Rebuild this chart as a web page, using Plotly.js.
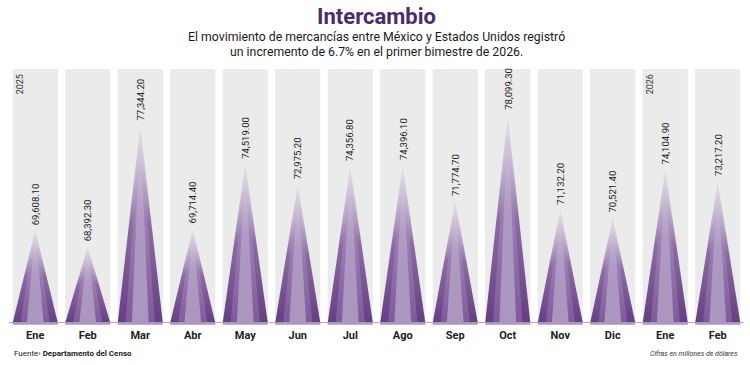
<!DOCTYPE html>
<html>
<head>
<meta charset="utf-8">
<script src="https://cdn.plot.ly/plotly-3.0.1.min.js"></script>
<style>
  html, body { margin: 0; padding: 0; background: #ffffff; }
  #chart { width: 750px; height: 365px; }
</style>
</head>
<body>
<div id="chart"></div>
<script>
// ---- Data ----
const months = ['Ene', 'Feb', 'Mar', 'Abr', 'May', 'Jun', 'Jul', 'Ago', 'Sep', 'Oct', 'Nov', 'Dic', 'Ene', 'Feb'];
const values = [69608.10, 68392.30, 77344.20, 69714.40, 74519.00, 72975.20, 74356.80, 74396.10, 71774.70, 78099.30, 71132.20, 70521.40, 74104.90, 73217.20];
const yearLabels = ['2025', '2026'];
const yearStartIndex = [0, 12];
const titleText = 'Intercambio';
const subtitleLines = [
  'El movimiento de mercancías entre México y Estados Unidos registró',
  'un incremento de 6.7% en el primer bimestre de 2026.'
];
const sourceText = 'Fuente› <b>Departamento del Censo</b>';
const unitsText = '<i>Cifras en millones de dólares</i>';

// ---- Styling ----
const yBase = 62750, yTop = 81500;
const colHalf = 0.43;
const layers = [
  { hw: 0.43, scale: [[0, 'rgb(102,62,130)'], [0.5, 'rgb(140,108,165)'], [1, 'rgba(215,202,225,0.3)']] },
  { hw: 0.28, scale: [[0, 'rgb(126,90,155)'], [0.55, 'rgba(160,132,182,0.8)'], [1, 'rgba(220,210,230,0)']] },
  { hw: 0.16, scale: [[0, 'rgb(172,150,192)'], [0.6, 'rgba(190,172,205,0.6)'], [1, 'rgba(225,215,232,0)']] }
];
const fontFam = 'Roboto, "Noto Sans", sans-serif';

function fmt(v) {
  return v.toLocaleString('en-US', { minimumFractionDigits: 2, maximumFractionDigits: 2 });
}

const traces = [];
values.forEach((v, i) => {
  layers.forEach(L => {
    traces.push({
      type: 'scatter', mode: 'lines',
      x: [i - L.hw, i, i + L.hw, i - L.hw],
      y: [yBase, v, yBase, yBase],
      fill: 'toself',
      line: { width: 0, color: 'rgba(0,0,0,0)' },
      fillgradient: { type: 'vertical', start: yBase, stop: v, colorscale: L.scale },
      hoverinfo: 'skip', showlegend: false
    });
  });
});

const shapes = [];
months.forEach((m, i) => {
  shapes.push({ type: 'rect', layer: 'below', xref: 'x', yref: 'paper',
    x0: i - colHalf, x1: i + colHalf, y0: 0, y1: 1,
    fillcolor: 'rgb(235,235,235)', line: { width: 0 } });
});
shapes.push({ type: 'line', xref: 'paper', yref: 'y', x0: 0, x1: 1, y0: yBase, y1: yBase,
  line: { color: 'rgb(150,150,150)', width: 1.5 } });
months.forEach((m, i) => {
  shapes.push({ type: 'rect', xref: 'x', yref: 'paper',
    x0: i - colHalf, x1: i + colHalf, y0: -0.007, y1: 0.004,
    fillcolor: 'rgb(172,150,194)', line: { width: 0 } });
});

const annotations = [];
values.forEach((v, i) => {
  annotations.push({ x: i, y: v, xref: 'x', yref: 'y', text: fmt(v), showarrow: false,
    textangle: -90, xanchor: 'center', yanchor: 'bottom', yshift: 3,
    font: { family: fontFam, size: 9.5, color: '#222' } });
});
yearLabels.forEach((t, k) => {
  annotations.push({ x: yearStartIndex[k] - 0.3, y: 0.985, xref: 'x', yref: 'paper', text: t,
    showarrow: false, textangle: -90, xanchor: 'center', yanchor: 'top',
    font: { family: fontFam, size: 9, color: '#333' } });
});
annotations.push({ x: 0.5, y: 1.126, xref: 'paper', yref: 'paper', text: subtitleLines[0],
  showarrow: false, xanchor: 'center', yanchor: 'middle',
  font: { family: fontFam, size: 12.3, color: '#1a1a1a' } });
annotations.push({ x: 0.5, y: 1.067, xref: 'paper', yref: 'paper', text: subtitleLines[1],
  showarrow: false, xanchor: 'center', yanchor: 'middle',
  font: { family: fontFam, size: 12.3, color: '#1a1a1a' } });
annotations.push({ x: 0, y: -0.122, xref: 'paper', yref: 'paper', text: sourceText,
  showarrow: false, xanchor: 'left', yanchor: 'middle', xshift: 3,
  font: { family: fontFam, size: 8, color: '#222' } });
annotations.push({ x: 0.995, y: -0.122, xref: 'paper', yref: 'paper', text: unitsText,
  showarrow: false, xanchor: 'right', yanchor: 'middle',
  font: { family: fontFam, size: 7, color: '#333' } });

const layout = {
  width: 750, height: 365,
  margin: { l: 9, r: 6, t: 69, b: 42 },
  paper_bgcolor: '#ffffff', plot_bgcolor: 'rgba(0,0,0,0)',
  title: { text: '<b>' + titleText + '</b>', x: 0.5, xref: 'paper', xanchor: 'center',
    y: 0.955, yref: 'container', yanchor: 'middle',
    font: { family: fontFam, size: 22, color: '#4b2a70' } },
  xaxis: {
    range: [-0.5, 13.5], showgrid: false, zeroline: false, showline: false,
    tickvals: months.map((m, i) => i), ticktext: months.map(m => '<b>' + m + '</b>'),
    ticks: '', ticklabelstandoff: 4,
    tickfont: { family: fontFam, size: 11, color: '#222' }, fixedrange: true
  },
  yaxis: {
    range: [yBase, yTop], showgrid: false, zeroline: false, showline: false,
    showticklabels: false, ticks: '', fixedrange: true
  },
  shapes: shapes,
  annotations: annotations,
  showlegend: false
};

Plotly.newPlot('chart', traces, layout, { displayModeBar: false, staticPlot: true });
</script>
</body>
</html>
